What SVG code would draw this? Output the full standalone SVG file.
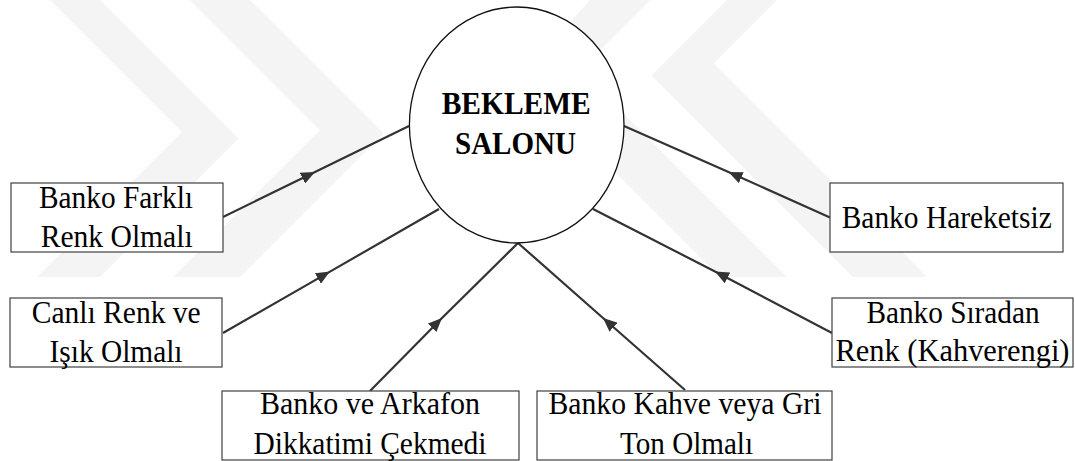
<svg xmlns="http://www.w3.org/2000/svg" width="1075" height="461" viewBox="0 0 1075 461">
<defs>
<style>
.box{fill:#fff;stroke:#404040;stroke-width:1.2}
.conn{fill:none;stroke:#333;stroke-width:2.2;marker-mid:url(#arr)}
.wm{fill:#f4f4f4}
.ell{fill:#fff;stroke:#111;stroke-width:1.3}
</style>
<marker id="arr" markerUnits="userSpaceOnUse" markerWidth="16" markerHeight="12" refX="14" refY="6" orient="auto" viewBox="0 0 16 12"><path d="M0,0 L14,6 L0,12 Z" fill="#333"/></marker>
<clipPath id="wmclip"><rect x="0" y="0" width="1075" height="277"/></clipPath>
</defs>
<rect width="1075" height="461" fill="#fff"/>
<g id="watermark" clip-path="url(#wmclip)">
<polygon class="wm" points="50,0 100,0 238.5,138.5 100,277 37,277 182,132"/>
<polygon class="wm" points="190,0 250,0 383.5,133.5 240,277 173,277 320,130"/>
<polygon class="wm" points="727,0 777,0 713.5,63.5 927,277 853,277 651.5,75.5"/>
<polygon class="wm" points="590,0 650,0 580,70 787,277 720,277 520,77"/>
</g>
<g id="connectors">
<path class="conn" d="M223,217 L315,172 L409,126"/>
<path class="conn" d="M223,333 L330,271.6 L439,209"/>
<path class="conn" d="M370,391 L442,318 L518,243"/>
<path class="conn" d="M685,390 L603,318 L518,243"/>
<path class="conn" d="M830,217.5 L728.5,172 L624,126"/>
<path class="conn" d="M832,333 L715,271.5 L593,209"/>
</g>
<g id="center">
<ellipse class="ell" cx="516.7" cy="125" rx="107.3" ry="118"/>
<text font-family="Liberation Serif" font-size="32" font-weight="bold" text-anchor="middle" x="516.2" y="114" textLength="149" lengthAdjust="spacingAndGlyphs">BEKLEME</text>
<text font-family="Liberation Serif" font-size="32" font-weight="bold" text-anchor="middle" x="515.5" y="154" textLength="121" lengthAdjust="spacingAndGlyphs">SALONU</text>
</g>
<g id="n1">
<rect class="box" x="11" y="183" width="212" height="69"/>
<text font-family="Liberation Serif" font-size="32" text-anchor="middle" x="116" y="208" textLength="154" lengthAdjust="spacingAndGlyphs">Banko Farklı</text>
<text font-family="Liberation Serif" font-size="32" text-anchor="middle" x="116.7" y="247" textLength="152" lengthAdjust="spacingAndGlyphs">Renk Olmalı</text>
</g>
<g id="n2">
<rect class="box" x="10" y="298" width="212" height="69"/>
<text font-family="Liberation Serif" font-size="32" text-anchor="middle" x="116.2" y="322.7" textLength="169" lengthAdjust="spacingAndGlyphs">Canlı Renk ve</text>
<text font-family="Liberation Serif" font-size="32" text-anchor="middle" x="116" y="361.7" textLength="133" lengthAdjust="spacingAndGlyphs">Işık Olmalı</text>
</g>
<g id="n3">
<rect class="box" x="222" y="391" width="297" height="69"/>
<text font-family="Liberation Serif" font-size="32" text-anchor="middle" x="370" y="414" textLength="220" lengthAdjust="spacingAndGlyphs">Banko ve Arkafon</text>
<text font-family="Liberation Serif" font-size="32" text-anchor="middle" x="370" y="454" textLength="233" lengthAdjust="spacingAndGlyphs">Dikkatimi Çekmedi</text>
</g>
<g id="n4">
<rect class="box" x="537" y="391" width="295" height="69"/>
<text font-family="Liberation Serif" font-size="32" text-anchor="middle" x="685" y="414" textLength="273" lengthAdjust="spacingAndGlyphs">Banko Kahve veya Gri</text>
<text font-family="Liberation Serif" font-size="32" text-anchor="middle" x="686.5" y="454" textLength="133" lengthAdjust="spacingAndGlyphs">Ton Olmalı</text>
</g>
<g id="n5">
<rect class="box" x="830" y="183" width="233" height="69"/>
<text font-family="Liberation Serif" font-size="32" text-anchor="middle" x="946.7" y="228" textLength="210" lengthAdjust="spacingAndGlyphs">Banko Hareketsiz</text>
</g>
<g id="n6">
<rect class="box" x="832" y="298" width="241" height="69"/>
<text font-family="Liberation Serif" font-size="32" text-anchor="middle" x="953" y="323" textLength="173" lengthAdjust="spacingAndGlyphs">Banko Sıradan</text>
<text font-family="Liberation Serif" font-size="30.5" text-anchor="middle" x="952.5" y="361" textLength="234" lengthAdjust="spacingAndGlyphs">Renk (Kahverengi)</text>
</g>
</svg>
